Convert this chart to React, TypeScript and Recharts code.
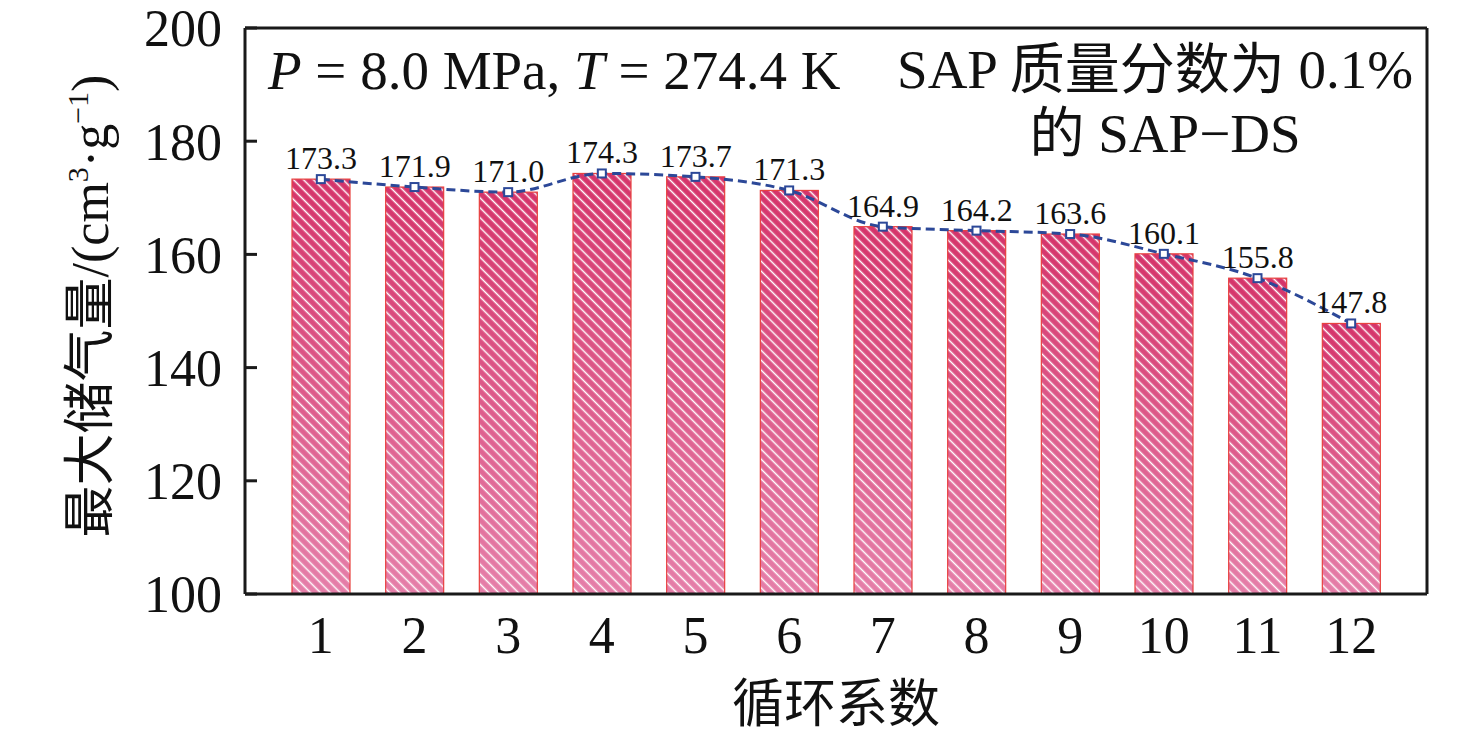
import { ComposedChart, Bar, Line, XAxis, YAxis, LabelList, CartesianGrid } from 'recharts'

const cycles = ['1', '2', '3', '4', '5', '6', '7', '8', '9', '10', '11', '12']
const storage = [173.3, 171.9, 171.0, 174.3, 173.7, 171.3, 164.9, 164.2, 163.6, 160.1, 155.8, 147.8]
const yTicks = [100, 120, 140, 160, 180, 200]

const data = cycles.map((c, i) => ({ cycle: c, value: storage[i] }))

const SERIF = "'Liberation Serif', 'Times New Roman', serif"
const CJK = "'Noto Sans CJK SC', sans-serif"
const FONT = "'Liberation Serif', 'Noto Sans CJK SC', serif"
const AXIS = '#1a1a1a'
const BLUE = '#2c4898'
const txt = { fontFamily: FONT, fill: '#111' }

// gradient bar + white diagonal hatch
function HatchBar(props: any) {
  const { x, y, width, height } = props
  if (height <= 0) return null
  return (
    <g>
      <rect x={x} y={y} width={width} height={height} fill="url(#barGrad)" />
      <rect x={x} y={y} width={width} height={height} fill="url(#hatch)" />
      <rect x={x} y={y} width={width} height={height} fill="none" stroke="#e8413f" strokeWidth={1.2} />
    </g>
  )
}

function SquareDot(props: any) {
  const { cx, cy, index } = props
  if (cx == null || cy == null) return null
  return <rect key={index} x={cx - 4} y={cy - 4} width={8} height={8} fill="#fff" stroke={BLUE} strokeWidth={2} />
}

// top and right edges of the plot box, taken from the chart offset
const topEdge = (p: any) => (p && p.offset ? [p.offset.top] : [])
const rightEdge = (p: any) => (p && p.offset ? [p.offset.left + p.offset.width] : [])

export default function App() {
  return (
    <div style={{ position: 'absolute', left: 0, top: 0, background: '#fff', fontFamily: FONT }}>
      <ComposedChart
        width={1476}
        height={738}
        data={data}
        margin={{ top: 28, right: 49, bottom: 0, left: 0 }}
      >
        <defs>
          <linearGradient id="barGrad" x1="0" y1="0" x2="0" y2="1">
            <stop offset="0%" stopColor="#d5346a" />
            <stop offset="100%" stopColor="#e57fa9" />
          </linearGradient>
          <pattern id="hatch" patternUnits="userSpaceOnUse" width="7" height="7" patternTransform="rotate(-45)">
            <line x1="3.5" y1="0" x2="3.5" y2="7" stroke="#ffffff" strokeWidth={1.5} />
          </pattern>
        </defs>
        <CartesianGrid
          horizontalCoordinatesGenerator={topEdge}
          verticalCoordinatesGenerator={rightEdge}
          stroke={AXIS}
          strokeWidth={3}
          strokeOpacity={1}
          fill="none"
        />
        <XAxis
          dataKey="cycle"
          height={144}
          padding={{ left: 29, right: 29 }}
          tickLine={false}
          tickSize={0}
          tickMargin={22}
          axisLine={{ stroke: AXIS, strokeWidth: 3 }}
          tick={{ fontSize: 52, ...txt }}
        />
        <YAxis
          width={245}
          domain={[100, 200]}
          ticks={yTicks}
          interval={0}
          tickSize={-12}
          tickMargin={35}
          tickLine={{ stroke: AXIS, strokeWidth: 3 }}
          axisLine={{ stroke: AXIS, strokeWidth: 3 }}
          tick={{ fontSize: 52, ...txt }}
        />
        <Bar dataKey="value" barSize={58} shape={HatchBar} isAnimationActive={false}>
          <LabelList
            dataKey="value"
            position="top"
            offset={10}
            formatter={(v: any) => Number(v).toFixed(1)}
            style={{ fontSize: 32, ...txt }}
          />
        </Bar>
        <Line
          dataKey="value"
          type="monotone"
          stroke={BLUE}
          strokeWidth={3}
          strokeDasharray="9 5"
          dot={SquareDot}
          activeDot={false}
          isAnimationActive={false}
        />
        <text x={268} y={89} style={{ fontSize: 55, fontFamily: SERIF, fill: '#111' }}>
          <tspan fontStyle="italic">P</tspan> = 8.0 MPa, <tspan fontStyle="italic">T</tspan> = 274.4 K
        </text>
        <text x={1413} y={88} textAnchor="end" style={{ fontSize: 55, fontFamily: SERIF, fill: '#111' }}>
          SAP <tspan style={{ fontFamily: CJK }}>质量分数为</tspan> 0.1%
        </text>
        <text x={1165} y={152} textAnchor="middle" style={{ fontSize: 55, fontFamily: SERIF, fill: '#111' }}>
          <tspan style={{ fontFamily: CJK }}>的</tspan> SAP−DS
        </text>
        <text x={836} y={722} textAnchor="middle" style={{ fontSize: 52, fontFamily: CJK, fill: '#111' }}>
          循环系数
        </text>
        <text x={108} y={306} textAnchor="middle" transform="rotate(-90 108 306)" style={{ fontSize: 52, fontFamily: SERIF, fill: '#111' }}>
          <tspan style={{ fontFamily: CJK }}>最大储气量</tspan>/(cm<tspan fontSize={30} dy={-20}>3</tspan>
          <tspan dy={20}>·g</tspan>
          <tspan fontSize={30} dy={-20}>−1</tspan>
          <tspan dy={20}>)</tspan>
        </text>
      </ComposedChart>
    </div>
  )
}
